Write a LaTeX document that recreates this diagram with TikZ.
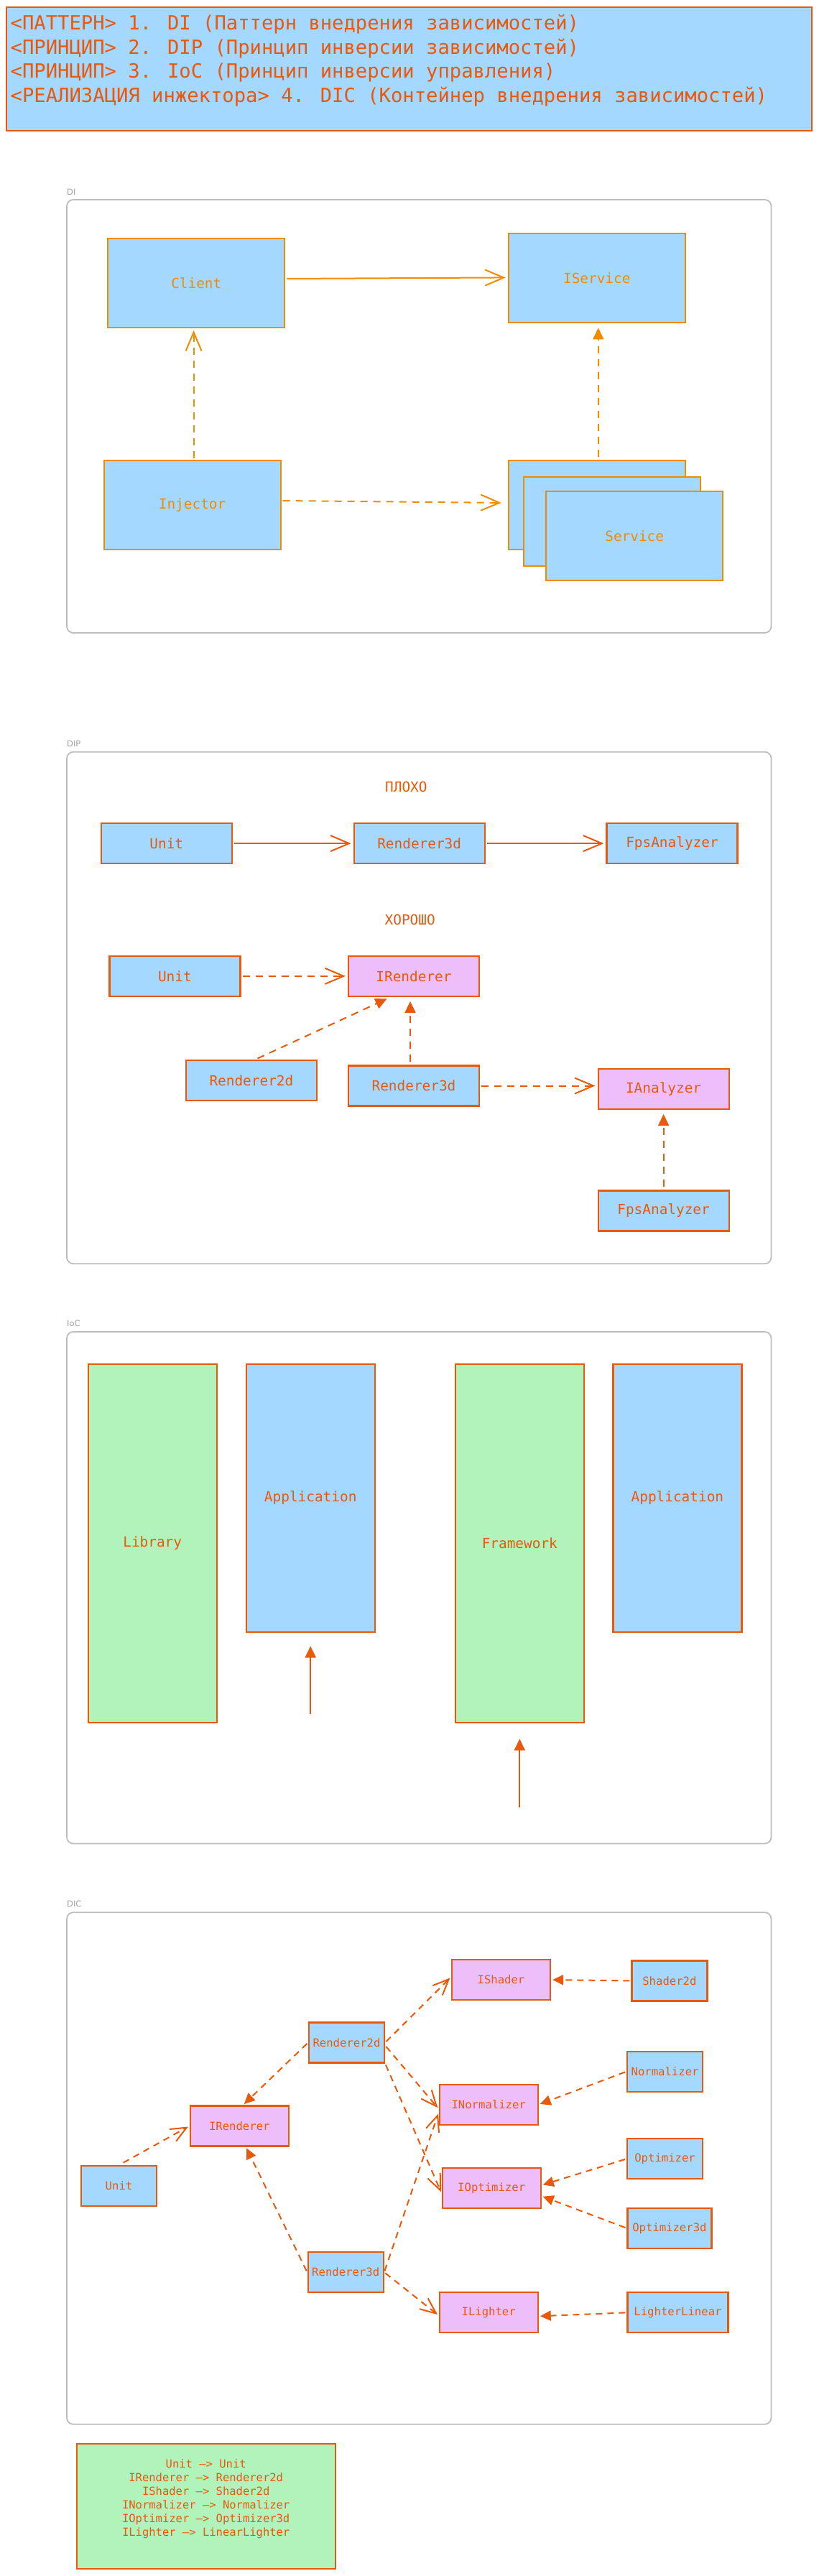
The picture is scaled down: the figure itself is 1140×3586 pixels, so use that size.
\documentclass[tikz,border=0pt]{standalone}
\usepackage{fontspec}
\setmainfont{DejaVu Sans Mono}
\setsansfont{DejaVu Sans}
\usetikzlibrary{arrows.meta}
\definecolor{boxblue}{HTML}{A5D8FF}
\definecolor{ifacepink}{HTML}{EEBEFA}
\definecolor{libgreen}{HTML}{B2F2BB}
\definecolor{strokeorange}{HTML}{F08C00}
\definecolor{strokered}{HTML}{E8590C}
\definecolor{framegray}{HTML}{BDBDBD}
\definecolor{labelgray}{HTML}{A0A0A0}
\tikzset{
  titlebox/.style={
    draw=strokered,
    fill=boxblue,
    line width=2.5pt,
    minimum width=1121pt,
    minimum height=172pt,
  },
  titleline/.style={anchor=base west, inner sep=0pt, text=strokered, font=\fontsize{27.2}{33}\selectfont},
  sectionlabel/.style={anchor=west, inner sep=0pt, text=labelgray, font=\sffamily\fontsize{11.5}{13}\selectfont},
  sectionframe/.style={draw=framegray, line width=1.8pt, rounded corners=9pt},
  caption/.style={inner sep=0pt, text=strokered, font=\fontsize{19.4}{23}\selectfont},
  diblock/.style={
    draw=strokeorange,
    fill=boxblue,
    line width=2pt,
    text=strokeorange,
    font=\fontsize{19.4}{23}\selectfont,
    minimum width=246pt,
    minimum height=124pt,
    inner sep=0pt,
  },
  block/.style={
    draw=strokered,
    fill=boxblue,
    line width=2.2pt,
    text=strokered,
    font=\fontsize{19.4}{23}\selectfont,
    minimum width=182pt,
    minimum height=56pt,
    inner sep=0pt,
  },
  iface/.style={block, fill=ifacepink},
  layer/.style={block, fill=libgreen, minimum width=179pt, minimum height=499pt},
  app/.style={block, minimum width=179pt, minimum height=373pt},
  dicblock/.style={block, font=\fontsize{15.6}{18}\selectfont, minimum width=105pt, minimum height=56pt},
  dicface/.style={dicblock, fill=ifacepink, minimum width=137pt},
  legendbox/.style={draw=strokered, fill=libgreen, line width=2.2pt, minimum width=360pt, minimum height=174pt},
  legendtext/.style={align=center, inner sep=0pt, text=strokered, font=\fontsize{15.5}{19}\selectfont},
  uses/.style={line width=2pt, -{Straight Barb[length=26pt,width=22pt]}, shorten >=3pt, shorten <=2pt},
  usesdash/.style={uses, dash pattern=on 10pt off 8pt},
  impl/.style={line width=2pt, dash pattern=on 10pt off 8pt, -{Triangle[length=16pt,width=15pt]}, shorten >=6pt, shorten <=4pt},
  call/.style={line width=2pt, -{Triangle[length=16pt,width=15pt]}},
  dicuses/.style={line width=2pt, dash pattern=on 9pt off 7pt, -{Straight Barb[length=22pt,width=19pt]}, shorten >=2pt, shorten <=2pt},
  dicimpl/.style={line width=2pt, dash pattern=on 9pt off 7pt, -{Triangle[length=15pt,width=14pt]}, shorten >=2pt, shorten <=2pt},
}

\begin{document}
\begin{tikzpicture}[x=1pt,y=-1pt]
  \useasboundingbox (0,0) rectangle (1140,3586);

  % title
  \node[titlebox] (title) at (569.5,96) {};
  \foreach \line [count=\i] in {
      {<ПАТТЕРН> 1. DI (Паттерн внедрения зависимостей)},
      {<ПРИНЦИП> 2. DIP (Принцип инверсии зависимостей)},
      {<ПРИНЦИП> 3. IoC (Принцип инверсии управления)},
      {<РЕАЛИЗАЦИЯ инжектора> 4. DIC (Контейнер внедрения зависимостей)}} {
    \node[titleline] (title\i) at (14.5,{42+33.5*(\i-1)}) {\line};
  }

  % DI
  \node[sectionlabel] (diLabel) at (93,267) {DI};
  \draw[sectionframe] (93,278) rectangle (1073.5,881);
  \node[diblock] (client) at (273.3,394) {Client};
  \node[diblock] (iservice) at (830.8,387.4) {IService};
  \node[diblock] (injector) at (267.6,703) {Injector};
  \node[diblock] (serviceBack) at (830.8,703) {};
  \node[diblock] (serviceMid) at (852,725.8) {};
  \node[diblock] (service) at (883.2,746.4) {Service};
  \begin{scope}[strokeorange]
    \draw[uses] ([yshift=6pt]client.east) -- ([yshift=1pt]iservice.west);
    \draw[usesdash] ([xshift=2pt]injector.north) -- ([xshift=2pt]injector.north |- client.south);
    \draw[usesdash, shorten >=9pt] ([yshift=6pt]injector.east) -- ([yshift=3pt]serviceBack.west);
    \draw[impl] ([xshift=2pt]serviceBack.north) -- ([xshift=2pt]iservice.south);
  \end{scope}

  % DIP
  \node[sectionlabel] (dipLabel) at (93,1035.5) {DIP};
  \draw[sectionframe] (93,1046.7) rectangle (1073.5,1759.2);
  \node[caption] (bad) at (565.4,1095) {ПЛОХО};
  \node[block] (badUnit) at (231.8,1174.1) {Unit};
  \node[block] (badRenderer) at (583.7,1174.1) {Renderer3d};
  \node[block] (badFps) at (935.5,1174.1) {FpsAnalyzer};
  \node[caption] (good) at (570.7,1280.3) {ХОРОШО};
  \node[block] (goodUnit) at (243.4,1358.8) {Unit};
  \node[iface] (goodIRenderer) at (576,1358.8) {IRenderer};
  \node[block] (goodRenderer2d) at (349.9,1504.2) {Renderer2d};
  \node[block] (goodRenderer3d) at (576,1511.5) {Renderer3d};
  \node[iface] (goodIAnalyzer) at (923.6,1515.9) {IAnalyzer};
  \node[block] (goodFps) at (923.6,1685.5) {FpsAnalyzer};
  \begin{scope}[strokered]
    \draw[uses] (badUnit) -- (badRenderer);
    \draw[uses] (badRenderer) -- (badFps);
    \draw[usesdash] (goodUnit) -- (goodIRenderer);
    \draw[impl] ([xshift=5pt]goodRenderer2d.north) -- ([xshift=-32pt]goodIRenderer.south);
    \draw[impl] ([xshift=-5pt]goodRenderer3d.north) -- ([xshift=-5pt]goodIRenderer.south);
    \draw[usesdash] (goodRenderer3d.east) -- (goodRenderer3d.east -| goodIAnalyzer.west);
    \draw[impl] (goodFps) -- (goodIAnalyzer);
  \end{scope}

  % IoC
  \node[sectionlabel] (iocLabel) at (93,1842.3) {IoC};
  \draw[sectionframe] (93,1853.9) rectangle (1073.5,2566.4);
  \node[layer] (library) at (212.2,2148.6) {Library};
  \node[app] (appLeft) at (432.2,2085.4) {Application};
  \node[layer] (framework) at (723.3,2148.6) {Framework};
  \node[app] (appRight) at (942.9,2085.4) {Application};
  \coordinate (libCall) at (432.2,2386);
  \coordinate (fwCall) at (723.3,2515.5);
  \begin{scope}[strokered]
    \draw[call, shorten >=18.5pt] (libCall) -- (appLeft);
    \draw[call, shorten >=21.4pt] (fwCall) -- (framework);
  \end{scope}

  % DIC
  \node[sectionlabel] (dicLabel) at (93,2650.5) {DIC};
  \draw[sectionframe] (93,2662.2) rectangle (1073.5,3374.7);
  \node[dicface] (ishader) at (697.5,2756) {IShader};
  \node[dicblock] (shader2d) at (931.9,2757.4) {Shader2d};
  \node[dicblock] (renderer2d) at (482.5,2843.4) {Renderer2d};
  \node[dicblock] (normalizer) at (925.6,2883.7) {Normalizer};
  \node[dicface] (inormalizer) at (680.2,2929.7) {INormalizer};
  \node[dicface] (irenderer) at (333.3,2959.5) {IRenderer};
  \node[dicblock] (optimizer) at (925.6,3005.3) {Optimizer};
  \node[dicblock] (unit) at (165.5,3043.1) {Unit};
  \node[dicface] (ioptimizer) at (684.2,3046) {IOptimizer};
  \node[dicblock, minimum width=117pt] (optimizer3d) at (931.9,3101.8) {Optimizer3d};
  \node[dicblock] (renderer3d) at (481.2,3163.1) {Renderer3d};
  \node[dicface] (ilighter) at (680.2,3219.3) {ILighter};
  \node[dicblock, minimum width=140pt] (lighterLinear) at (943.5,3219.3) {LighterLinear};
  \begin{scope}[strokered]
    \draw[dicuses, shorten <=7pt] (unit.north) -- (irenderer.west);
    \draw[dicimpl] (renderer2d.west) -- ([xshift=5pt]irenderer.north);
    \draw[dicimpl] (renderer3d.west) -- ([xshift=9pt]irenderer.south);
    \draw[dicuses] (renderer2d.east) -- ([yshift=4pt]ishader.west);
    \draw[dicuses] ([yshift=-4pt]renderer2d.east) -- ([yshift=-6pt]inormalizer.west);
    \draw[dicuses] (renderer2d.south east) -- ([yshift=-7pt]ioptimizer.west);
    \draw[dicuses] (renderer3d.east) -- ([yshift=-11pt]inormalizer.west);
    \draw[dicuses] (renderer3d.east) -- ([yshift=-4pt]ilighter.west);
    \draw[dicimpl] (shader2d.west) -- (ishader.east);
    \draw[dicimpl] (normalizer.west) -- (inormalizer.east);
    \draw[dicimpl] (optimizer.west) -- ([yshift=4pt]ioptimizer.east);
    \draw[dicimpl] (optimizer3d.west) -- ([yshift=-11pt]ioptimizer.east);
    \draw[dicimpl] (lighterLinear.west) -- ([yshift=-5pt]ilighter.east);
  \end{scope}

  % legend
  \node[legendbox] (legend) at (286.7,3489) {};
  \node[legendtext] (legendText) at ([yshift=10pt]legend.center) {Unit --> Unit\\
    IRenderer --> Renderer2d\\
    IShader --> Shader2d\\
    INormalizer --> Normalizer\\
    IOptimizer --> Optimizer3d\\
    ILighter --> LinearLighter};
\end{tikzpicture}
\end{document}
